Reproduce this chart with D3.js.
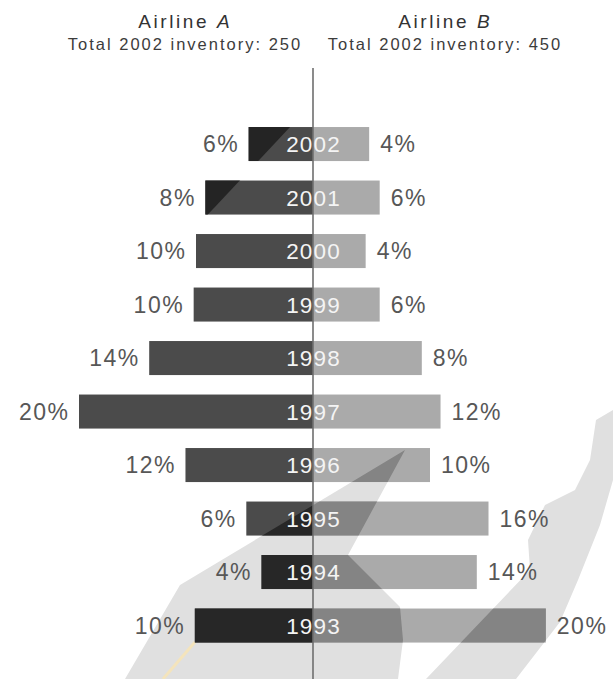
<!DOCTYPE html>
<html>
<head>
<meta charset="utf-8">
<script src="https://cdn.jsdelivr.net/npm/d3@7/dist/d3.min.js"></script>
<style>
  html, body { margin: 0; padding: 0; background: #ffffff; }
  svg { display: block; }
</style>
</head>
<body>
<div id="chart"></div>
<script>
// ---------- data ----------
const years   = ["2002", "2001", "2000", "1999", "1998", "1997", "1996", "1995", "1994", "1993"];
const shareA  = [5.5, 9.2, 10.0, 10.2, 14.0, 20.0, 10.9, 5.7, 4.4, 10.1];   // bar lengths, Airline A (%)
const shareB  = [4.8, 5.7, 4.5, 5.7, 9.3, 10.9, 10.0, 15.0, 14.0, 19.9];    // bar lengths, Airline B (%)
const labelA  = ["6%", "8%", "10%", "10%", "14%", "20%", "12%", "6%", "4%", "10%"];
const labelB  = ["4%", "6%", "4%", "6%", "8%", "12%", "10%", "16%", "14%", "20%"];
const airlines = ["A", "B"];
const totals   = [250, 450];

// ---------- layout ----------
const W = 613, H = 679;
const cx = 313;

const svg = d3.select("#chart").append("svg")
  .attr("width", W).attr("height", H);

svg.append("rect").attr("width", W).attr("height", H).attr("fill", "#ffffff");

const y = d3.scaleBand().domain(years).range([117.3, 652.3])
  .paddingInner(0.364).paddingOuter(0.182);
const x = d3.scaleLinear().domain([0, 20]).range([0, 234]);

const rowsA = years.map((yr, i) => ({ yr, v: shareA[i], lab: labelA[i] }));
const rowsB = years.map((yr, i) => ({ yr, v: shareB[i], lab: labelB[i] }));

// decorative background watermark (not data)
const wm1 = [[405,450],[348,555],[400,607],[403,640],[398,679],[125,679],[180,585]];
const wm2 = [[426,679],[530,570],[528,540],[545,505],[575,490],[590,460],[596,420],[613,410],[613,480],[600,525],[578,580],[560,622],[516,679]];
const wm3 = [[0,60],[353,60],[198,225],[0,225]];
const poly = p => "M" + p.map(d => d.join(",")).join("L") + "Z";

const defs = svg.append("defs");
defs.append("clipPath").attr("id", "clipA")
  .selectAll("rect").data(rowsA).join("rect")
  .attr("x", d => cx - x(d.v)).attr("y", d => y(d.yr))
  .attr("width", d => x(d.v)).attr("height", y.bandwidth());
defs.append("clipPath").attr("id", "clipB")
  .selectAll("rect").data(rowsB).join("rect")
  .attr("x", cx).attr("y", d => y(d.yr))
  .attr("width", d => x(d.v)).attr("height", y.bandwidth());

const bg = svg.append("g").attr("class", "watermark");
bg.append("path").attr("d", poly(wm1)).attr("fill", "#e0e0e0");
bg.append("path").attr("d", poly(wm2)).attr("fill", "#e0e0e0");
bg.append("line").attr("x1", 195).attr("y1", 642).attr("x2", 163).attr("y2", 679)
  .attr("stroke", "#f4e4bc").attr("stroke-width", 3);

// bars
svg.append("g").selectAll("rect").data(rowsA).join("rect")
  .attr("x", d => cx - x(d.v)).attr("y", d => y(d.yr))
  .attr("width", d => x(d.v)).attr("height", y.bandwidth())
  .attr("fill", "#4b4b4b");
svg.append("g").selectAll("rect").data(rowsB).join("rect")
  .attr("x", cx).attr("y", d => y(d.yr))
  .attr("width", d => x(d.v)).attr("height", y.bandwidth())
  .attr("fill", "#aaaaaa");

// watermark seen through bars
const ov = svg.append("g").attr("class", "watermark-over");
const gA = ov.append("g").attr("clip-path", "url(#clipA)");
gA.append("path").attr("d", poly(wm1)).attr("fill", "#272727");
gA.append("path").attr("d", poly(wm3)).attr("fill", "#242424");
const gB = ov.append("g").attr("clip-path", "url(#clipB)");
gB.append("path").attr("d", poly(wm1)).attr("fill", "#848484");
gB.append("path").attr("d", poly(wm2)).attr("fill", "#848484");

// center axis line
svg.append("line").attr("x1", cx).attr("x2", cx).attr("y1", 68).attr("y2", H)
  .attr("stroke", "#6f6f6f").attr("stroke-width", 1.6);

const font = "'Liberation Sans', Arial, Helvetica, sans-serif";

// year labels
const lsYear = 1.2;
svg.append("g").selectAll("text").data(years).join("text")
  .attr("x", cx + lsYear / 2).attr("y", d => y(d) + y.bandwidth() / 2 + 8)
  .attr("text-anchor", "middle")
  .attr("font-family", font).attr("font-size", 22.5).attr("letter-spacing", lsYear)
  .attr("fill", "#f4f4f4")
  .text(d => d);

// percentage labels
const lsPct = 1.5;
svg.append("g").selectAll("text").data(rowsA).join("text")
  .attr("x", d => cx - x(d.v) - 11 + lsPct).attr("y", d => y(d.yr) + y.bandwidth() / 2 + 8)
  .attr("text-anchor", "end")
  .attr("font-family", font).attr("font-size", 23).attr("letter-spacing", lsPct)
  .attr("fill", "#575757")
  .text(d => d.lab);
svg.append("g").selectAll("text").data(rowsB).join("text")
  .attr("x", d => cx + x(d.v) + 11).attr("y", d => y(d.yr) + y.bandwidth() / 2 + 8)
  .attr("text-anchor", "start")
  .attr("font-family", font).attr("font-size", 23).attr("letter-spacing", lsPct)
  .attr("fill", "#575757")
  .text(d => d.lab);

// headers
const hx = [184, 444];
airlines.forEach((a, i) => {
  const t = svg.append("text").attr("x", hx[i] + 1.3).attr("y", 28)
    .attr("text-anchor", "middle").attr("font-family", font)
    .attr("font-size", 19).attr("letter-spacing", 2.6).attr("fill", "#333333");
  t.append("tspan").text("Airline ");
  t.append("tspan").attr("font-style", "italic").text(a);
  svg.append("text").attr("x", hx[i] + 1).attr("y", 50)
    .attr("text-anchor", "middle").attr("font-family", font)
    .attr("font-size", 16.5).attr("letter-spacing", 2).attr("fill", "#3c3c3c")
    .text("Total 2002 inventory: " + totals[i]);
});
</script>
</body>
</html>
